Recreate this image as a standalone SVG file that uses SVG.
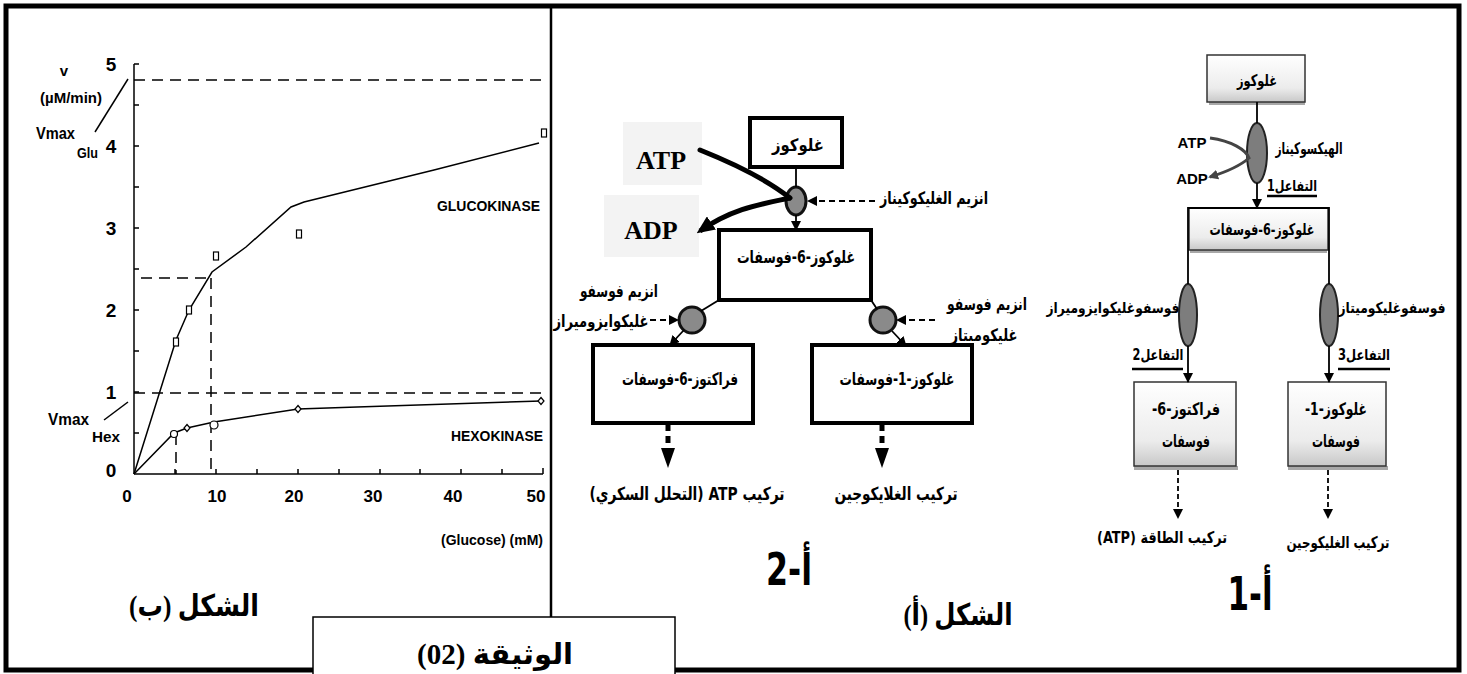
<svg xmlns="http://www.w3.org/2000/svg" width="1467" height="674" viewBox="0 0 1467 674">
<defs>
<style>
.ax{stroke:#000;stroke-width:1.5;fill:none}
.dash{stroke:#000;stroke-width:1.5;stroke-dasharray:11 7;fill:none}
.gt{font-family:"Liberation Sans",Arial,sans-serif;font-weight:bold;fill:#000}
.ar{font-family:"DejaVu Sans","Liberation Sans",sans-serif;font-weight:bold;direction:rtl;unicode-bidi:embed;text-anchor:middle;fill:#000}
.arS{font-family:"Liberation Serif","DejaVu Sans",serif;font-weight:bold;direction:rtl;unicode-bidi:embed;text-anchor:middle;fill:#000}
.lat{font-family:"Liberation Serif",serif;font-weight:bold;text-anchor:middle;fill:#000}
.box{fill:#fff;stroke:#000;stroke-width:4}
.bev{fill:url(#bevel);stroke:#333;stroke-width:1.5}
.enzC{fill:#8a8a8a;stroke:#111;stroke-width:3}
.enzE{fill:#7d7d7d;stroke:#222;stroke-width:2}
.ln{stroke:#000;stroke-width:1.8;fill:none}
.dl{stroke:#000;stroke-width:1.8;stroke-dasharray:5 3;fill:none}
</style>
<linearGradient id="bevel" x1="0" y1="0" x2="0" y2="1">
<stop offset="0" stop-color="#ffffff"/>
<stop offset="0.7" stop-color="#ececec"/>
<stop offset="1" stop-color="#c8c8c8"/>
</linearGradient>
<marker id="ah" markerUnits="userSpaceOnUse" markerWidth="10" markerHeight="10" refX="9" refY="5" orient="auto"><path d="M0,0 L10,5 L0,10 z" fill="#000"/></marker>
<marker id="ahB" markerUnits="userSpaceOnUse" markerWidth="18" markerHeight="16" refX="14" refY="8" orient="auto"><path d="M0,0 L18,8 L0,16 z" fill="#000"/></marker>
<marker id="ahG" markerUnits="userSpaceOnUse" markerWidth="10" markerHeight="10" refX="8" refY="5" orient="auto"><path d="M0,0 L10,5 L0,10 z" fill="#444"/></marker>
</defs>
<rect x="0" y="0" width="1467" height="674" fill="#fff"/>

<!-- frame -->
<g id="frame">
<rect x="6" y="6" width="1453" height="664" fill="none" stroke="#000" stroke-width="5"/>
<line x1="551" y1="6" x2="551" y2="617" stroke="#000" stroke-width="2.5"/>
</g>

<!-- graph (figure b) -->
<g id="graph">
<line class="ax" x1="134" y1="64" x2="134" y2="474"/>
<line class="ax" x1="134" y1="474" x2="543" y2="474"/>
<path class="ax" d="M134,433h5M134,392h5M134,351h5M134,310h5M134,269h5M134,228h5M134,187h5M134,146h5M134,105h5M134,64h5"/>
<path class="ax" d="M175,474v-5M216,474v-5M257,474v-5M298,474v-5M339,474v-5M380,474v-5M420,474v-5M461,474v-5M502,474v-5M543,474v-6"/>
<g class="gt" font-size="19" text-anchor="middle">
<text x="111" y="71">5</text><text x="111" y="153">4</text><text x="111" y="235">3</text><text x="111" y="317">2</text><text x="111" y="399">1</text><text x="111" y="477">0</text>
</g>
<g class="gt" font-size="17" text-anchor="middle">
<text x="127" y="502">0</text><text x="217" y="502">10</text><text x="294" y="502">20</text><text x="373" y="502">30</text><text x="453" y="502">40</text><text x="536" y="502">50</text>
</g>
<line class="dash" x1="134" y1="80" x2="546" y2="80"/>
<line class="dash" x1="141" y1="278" x2="211" y2="278"/>
<line class="dash" x1="211" y1="278" x2="211" y2="474"/>
<line class="dash" x1="134" y1="393" x2="543" y2="393"/>
<line class="dash" x1="176" y1="434" x2="176" y2="474"/>
<polyline class="ax" stroke-width="1.3" points="134,474 176,340 189,310 212,272 246,247 291,207 304,202 434,170 539,143"/>
<polyline class="ax" stroke-width="1.3" points="134,474 174,433 187,428 214,422 298,409 357,407 541,401"/>
<g fill="#fff" stroke="#000" stroke-width="1.2">
<rect x="173.5" y="338" width="5" height="8"/>
<rect x="186.5" y="306" width="5" height="8"/>
<rect x="213.5" y="252" width="5" height="8"/>
<rect x="296.5" y="230" width="5" height="8"/>
<rect x="541.5" y="129" width="5" height="8"/>
<circle cx="174" cy="434" r="3.5"/>
<circle cx="214" cy="425" r="4"/>
<path d="M187,424.5 L190,428 L187,431.5 L184,428 Z"/>
<path d="M298,405.5 L301,409 L298,412.5 L295,409 Z"/>
<path d="M541,397.5 L544,401 L541,404.5 L538,401 Z"/>
</g>
<text class="gt" x="437" y="211" font-size="15" textLength="103" lengthAdjust="spacingAndGlyphs">GLUCOKINASE</text>
<text class="gt" x="451" y="441" font-size="15" textLength="92" lengthAdjust="spacingAndGlyphs">HEXOKINASE</text>
<text class="gt" x="441" y="545" font-size="14" font-weight="normal" textLength="102" lengthAdjust="spacingAndGlyphs">(Glucose) (mM)</text>
<text class="gt" x="64" y="76" font-size="15" text-anchor="middle">v</text>
<text class="gt" x="71" y="103" font-size="14" text-anchor="middle" textLength="62" lengthAdjust="spacingAndGlyphs">(µM/min)</text>
<text class="gt" x="36" y="139" font-size="16" textLength="39" lengthAdjust="spacingAndGlyphs">Vmax</text>
<text class="gt" x="77" y="158" font-size="15" textLength="21" lengthAdjust="spacingAndGlyphs">Glu</text>
<line class="ax" stroke-width="1" x1="95" y1="132" x2="128" y2="79"/>
<text class="gt" x="48" y="425" font-size="16" textLength="41" lengthAdjust="spacingAndGlyphs">Vmax</text>
<text class="gt" x="92" y="442" font-size="15" textLength="28" lengthAdjust="spacingAndGlyphs">Hex</text>
<line class="ax" stroke-width="1" x1="104" y1="420" x2="128" y2="402"/>
<text class="arS" x="194" y="616" font-size="30" textLength="130" lengthAdjust="spacingAndGlyphs">الشكل (ب)</text>
</g>

<!-- caption box -->
<g id="caption">
<rect x="313" y="617" width="362" height="60" fill="#fff" stroke="#000" stroke-width="1.5"/>
<text class="arS" x="495" y="664" font-size="29" textLength="156" lengthAdjust="spacingAndGlyphs">الوثيقة (02)</text>
</g>

<!-- figure a-2 (middle) -->
<g id="a2-atp-bg"><rect x="623" y="122" width="79" height="63" fill="#f3f3f3"/><rect x="604" y="195" width="95" height="62" fill="#f3f3f3"/>
<text class="lat" x="661" y="169" font-size="26">ATP</text><text class="lat" x="651" y="239" font-size="26">ADP</text></g>
<g id="a2-glucose"><rect class="box" x="750" y="118" width="92" height="49" stroke-width="3.5"/><text class="ar" x="798" y="151" font-size="17" textLength="52" lengthAdjust="spacingAndGlyphs">غلوكوز</text></g>
<g id="a2-gk"><ellipse class="enzC" cx="796" cy="201" rx="10" ry="14" stroke-width="2.5"/><text class="ar" x="934" y="204" font-size="17" textLength="108" lengthAdjust="spacingAndGlyphs">انزيم الغليكوكيناز</text></g>
<g id="a2-g6p"><rect class="box" x="719" y="230" width="152" height="70"/><text class="ar" x="796" y="263" font-size="17" textLength="118" lengthAdjust="spacingAndGlyphs">غلوكوز-6-فوسفات</text></g>
<g id="a2-pgi"><circle class="enzC" cx="692" cy="320" r="13"/><text class="ar" x="619" y="297" font-size="17" textLength="78" lengthAdjust="spacingAndGlyphs">انزيم فوسفو</text><text class="ar" x="601" y="327" font-size="17" textLength="95" lengthAdjust="spacingAndGlyphs">غليكوايزوميراز</text></g>
<g id="a2-pgm"><circle class="enzC" cx="883" cy="320" r="13"/><text class="ar" x="987" y="310" font-size="17" textLength="80" lengthAdjust="spacingAndGlyphs">انزيم فوسفو</text><text class="ar" x="984" y="341" font-size="17" textLength="67" lengthAdjust="spacingAndGlyphs">غليكوميتاز</text></g>
<g id="a2-f6p"><rect class="box" x="593" y="345" width="160" height="78"/><text class="ar" x="680" y="385" font-size="17" textLength="116" lengthAdjust="spacingAndGlyphs">فراكتوز-6-فوسفات</text></g>
<g id="a2-g1p"><rect class="box" x="812" y="345" width="160" height="78"/><text class="ar" x="897" y="385" font-size="17" textLength="115" lengthAdjust="spacingAndGlyphs">غلوكوز-1-فوسفات</text></g>
<g id="a2-out1"><text class="ar" x="687" y="500" font-size="18" textLength="195" lengthAdjust="spacingAndGlyphs">تركيب ATP (التحلل السكري)</text></g>
<g id="a2-out2"><text class="ar" x="896" y="500" font-size="18" textLength="123" lengthAdjust="spacingAndGlyphs">تركيب الغلايكوجين</text></g>
<g id="a2-title"><text class="ar" x="789" y="585" font-size="44" font-family="Liberation Sans, DejaVu Sans, sans-serif" textLength="46" lengthAdjust="spacingAndGlyphs">أ-2</text><text class="arS" x="958" y="625" font-size="30" textLength="109" lengthAdjust="spacingAndGlyphs">الشكل (أ)</text></g>

<!-- figure a-1 (right) -->
<g id="a1-glucose"><rect x="1209" y="102" width="96" height="3" fill="#a8a8a8"/><rect class="bev" x="1207" y="55" width="98" height="47"/><text class="ar" x="1257" y="86" font-size="16" textLength="40" lengthAdjust="spacingAndGlyphs">غلوكوز</text></g>
<g id="a1-hk"><ellipse class="enzE" cx="1257" cy="153" rx="10" ry="30"/><text class="ar" x="1309" y="154" font-size="16" textLength="67" lengthAdjust="spacingAndGlyphs">الهيكسوكيناز</text><text class="ar" x="1292" y="191" font-size="15" textLength="50" lengthAdjust="spacingAndGlyphs">التفاعل1</text><line x1="1267" y1="196" x2="1317" y2="196" stroke="#000" stroke-width="2.5"/>
<text x="1192" y="148" font-family="Liberation Sans, Arial, sans-serif" font-weight="bold" font-size="15" text-anchor="middle">ATP</text><text x="1192" y="184" font-family="Liberation Sans, Arial, sans-serif" font-weight="bold" font-size="15" text-anchor="middle">ADP</text></g>
<g id="a1-g6p"><rect x="1190" y="250" width="137" height="3" fill="#a8a8a8"/><rect class="bev" x="1189" y="208" width="139" height="42"/><text class="ar" x="1262" y="235" font-size="16" textLength="105" lengthAdjust="spacingAndGlyphs">غلوكوز-6-فوسفات</text></g>
<g id="a1-pgi"><ellipse class="enzE" cx="1188" cy="315" rx="9" ry="31"/><text class="ar" x="1113" y="313" font-size="15" textLength="133" lengthAdjust="spacingAndGlyphs">فوسفوغليكوايزوميراز</text><text class="ar" x="1158" y="360" font-size="15" textLength="51" lengthAdjust="spacingAndGlyphs">التفاعل2</text><line x1="1132" y1="369" x2="1183" y2="369" stroke="#000" stroke-width="2.5"/></g>
<g id="a1-pgm"><ellipse class="enzE" cx="1329" cy="315" rx="9" ry="31"/><text class="ar" x="1392" y="313" font-size="15" textLength="107" lengthAdjust="spacingAndGlyphs">فوسفوغليكوميتاز</text><text class="ar" x="1364" y="360" font-size="15" textLength="52" lengthAdjust="spacingAndGlyphs">التفاعل3</text><line x1="1338" y1="369" x2="1390" y2="369" stroke="#000" stroke-width="2.5"/></g>
<g id="a1-f6p"><rect x="1134" y="466" width="104" height="4" fill="#a8a8a8"/><rect class="bev" x="1134" y="382" width="102" height="84"/><text class="ar" x="1186" y="415" font-size="17" textLength="68" lengthAdjust="spacingAndGlyphs">فراكتوز-6-</text><text class="ar" x="1186" y="447" font-size="17" textLength="48" lengthAdjust="spacingAndGlyphs">فوسفات</text></g>
<g id="a1-g1p"><rect x="1288" y="466" width="100" height="4" fill="#a8a8a8"/><rect class="bev" x="1288" y="382" width="98" height="84"/><text class="ar" x="1336" y="415" font-size="17" textLength="62" lengthAdjust="spacingAndGlyphs">غلوكوز-1-</text><text class="ar" x="1336" y="447" font-size="17" textLength="48" lengthAdjust="spacingAndGlyphs">فوسفات</text></g>
<g id="a1-out1"><text class="ar" x="1162" y="543" font-size="16" textLength="130" lengthAdjust="spacingAndGlyphs">تركيب الطاقة (ATP)</text></g>
<g id="a1-out2"><text class="ar" x="1338" y="548" font-size="16" textLength="103" lengthAdjust="spacingAndGlyphs">تركيب الغليكوجين</text></g>
<g id="a1-title"><text class="ar" x="1250" y="610" font-size="46" font-family="Liberation Sans, DejaVu Sans, sans-serif" textLength="45" lengthAdjust="spacingAndGlyphs">أ-1</text></g>

<!-- connectors -->
<g id="connectors">
<!-- a-2 -->
<line class="ln" x1="796" y1="167" x2="796" y2="187"/>
<line class="ln" x1="796" y1="215" x2="796" y2="230" marker-end="url(#ah)"/>
<line class="ln" x1="875" y1="201" x2="808" y2="201" stroke-dasharray="6 4" marker-end="url(#ah)"/>
<path d="M700,150 C730,162 765,178 790,198" stroke="#000" stroke-width="5" fill="none" stroke-linecap="round"/>
<path d="M790,198 C762,204 733,208 700,231" stroke="#000" stroke-width="5" fill="none" marker-end="url(#ahB)"/>
<line class="ln" x1="719" y1="300" x2="701" y2="311"/>
<line class="ln" x1="684" y1="330" x2="670" y2="345" marker-end="url(#ah)"/>
<line class="ln" x1="650" y1="320" x2="678" y2="320" stroke-dasharray="6 4" marker-end="url(#ah)"/>
<line class="ln" x1="871" y1="300" x2="877" y2="309"/>
<line class="ln" x1="892" y1="331" x2="906" y2="346" marker-end="url(#ah)"/>
<line class="ln" x1="935" y1="320" x2="897" y2="320" stroke-dasharray="6 4" marker-end="url(#ah)"/>
<g fill="#000">
<rect x="665.5" y="425" width="5" height="6"/><rect x="665.5" y="436" width="5" height="7"/><path d="M661,448 L675,448 L668,468 Z"/>
<rect x="879.5" y="425" width="5" height="6"/><rect x="879.5" y="436" width="5" height="7"/><path d="M875,448 L889,448 L882,468 Z"/>
</g>
<!-- a-1 -->
<line class="ln" x1="1257" y1="102" x2="1257" y2="123"/>
<line class="ln" x1="1257" y1="183" x2="1257" y2="208" marker-end="url(#ah)"/>
<path d="M1210,138 C1232,141 1246,150 1249,158 C1240,166 1226,172 1210,177" stroke="#444" stroke-width="3" fill="none" marker-end="url(#ahG)"/>
<path class="ln" d="M1188,284 V208 H1329 V284"/>
<line class="ln" x1="1188" y1="346" x2="1188" y2="382" marker-end="url(#ah)"/>
<line class="ln" x1="1329" y1="346" x2="1329" y2="382" marker-end="url(#ah)"/>
<line class="dl" x1="1178" y1="470" x2="1178" y2="518" marker-end="url(#ah)"/>
<line class="dl" x1="1328" y1="470" x2="1328" y2="518" marker-end="url(#ah)"/>
</g>
</svg>
